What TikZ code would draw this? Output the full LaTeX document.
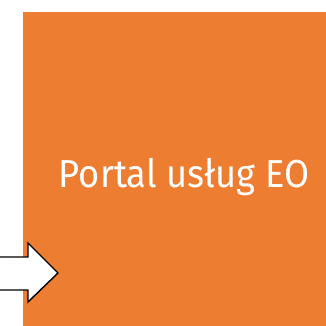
\documentclass[tikz,border=0pt]{standalone}
\usepackage{fontspec}
\setsansfont[FakeStretch=0.93]{Fira Sans}
\usepackage{xcolor}
\usetikzlibrary{positioning}
\definecolor{portalorange}{HTML}{ED7D31}

\begin{document}
\begin{tikzpicture}[
    x=1pt, y=1pt,
    portalbox/.style={rectangle, fill=portalorange, draw=none, inner sep=0pt},
    portaltext/.style={text=white, font=\sffamily\fontsize{39}{42}\selectfont},
    inarrow/.style={draw=black, fill=white, line width=1.4pt, line join=miter},
]
\useasboundingbox (0,0) rectangle (326,326);
\node[portalbox, minimum width=303pt, minimum height=314pt, anchor=south west] (portal) at (23,0) {};
\node[portaltext] (title) at (184,149) {Portal usług EO};
% arrow into the portal
\coordinate (tip) at (58,53);
\draw[inarrow] (-5,69) -- (28,69) -- (28,83) -- (tip) -- (28,24) -- (28,36) -- (-5,36);
\end{tikzpicture}
\end{document}
